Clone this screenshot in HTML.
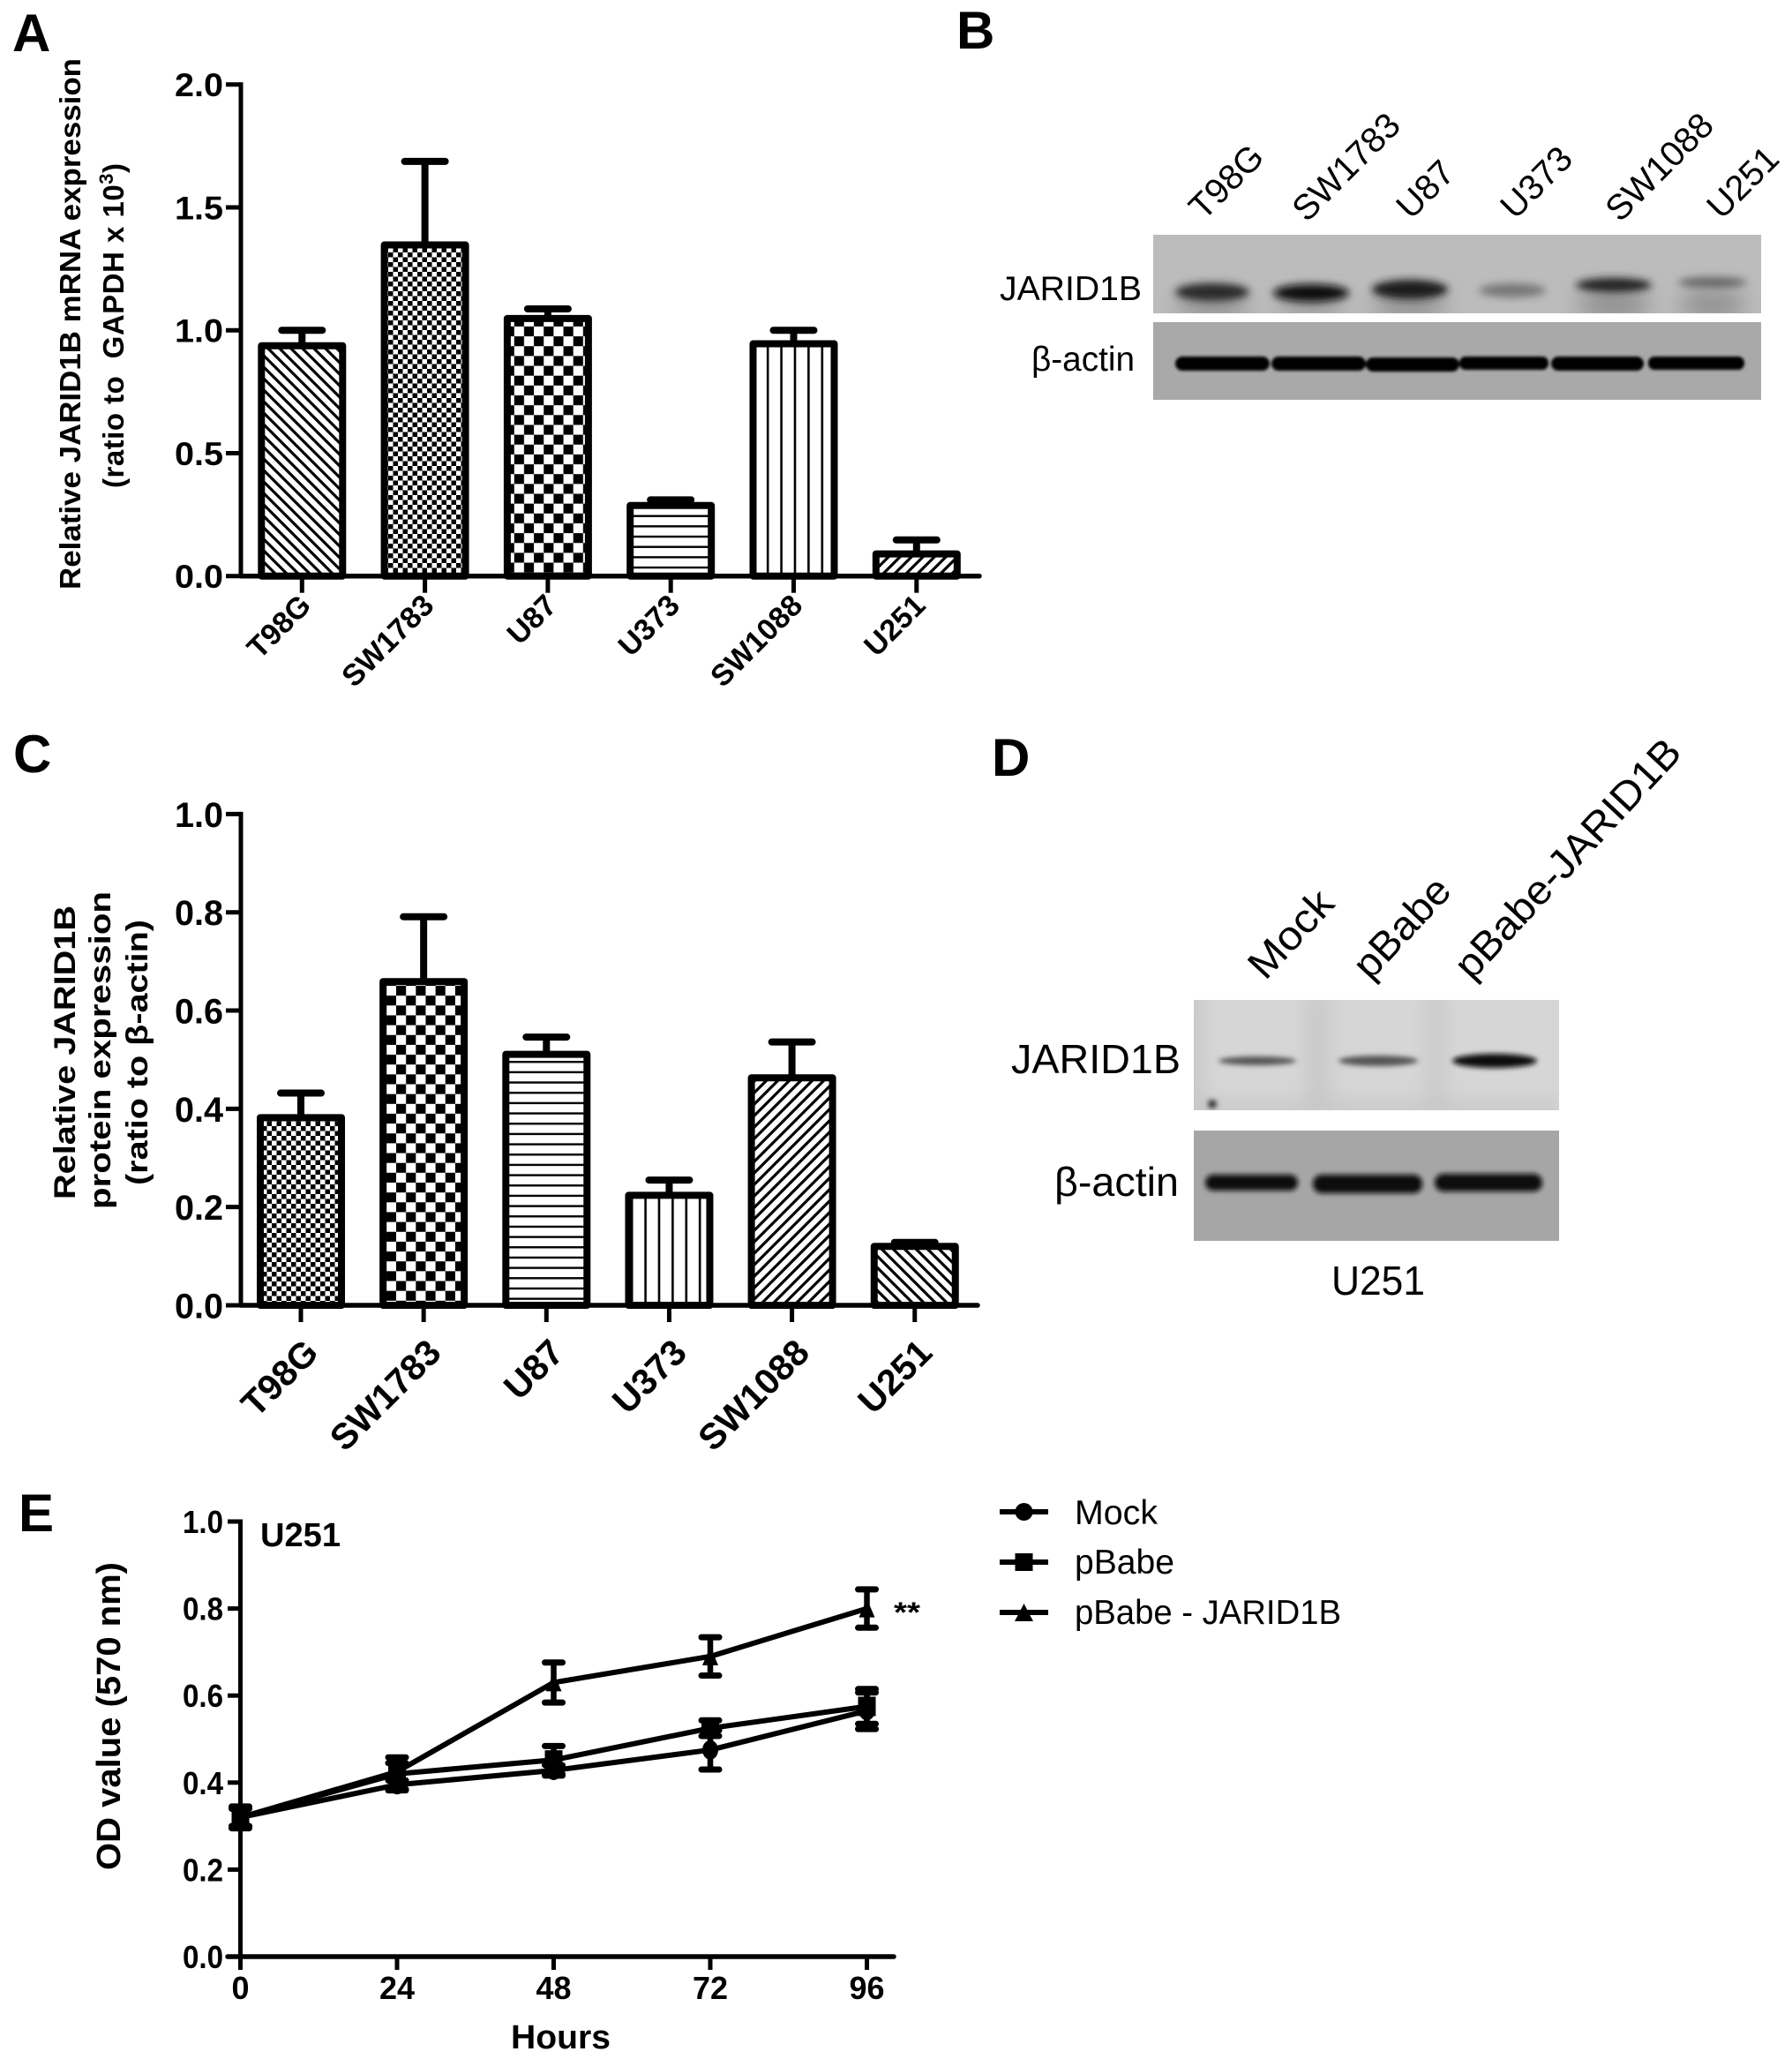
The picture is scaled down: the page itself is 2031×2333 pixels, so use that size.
<!DOCTYPE html>
<html lang="en">
<head>
<meta charset="utf-8">
<title>JARID1B expression figure</title>
<style>
html,body{margin:0;padding:0;background:#fff;}
svg{display:block;}
text{font-family:"Liberation Sans",sans-serif;fill:#000;}
.b{font-weight:bold;}
</style>
</head>
<body>
<svg id="figure" xmlns="http://www.w3.org/2000/svg" width="2031" height="2333" viewBox="0 0 2031 2333">
  <defs>
    <pattern id="p-back" patternUnits="userSpaceOnUse" width="13" height="13"><rect width="13" height="13" fill="#fff"/><path d="M-3 -3 L16 16 M-3 10 L3 16 M10 -3 L16 3" stroke="#000" stroke-width="3.2"/></pattern>
    <pattern id="p-forward" patternUnits="userSpaceOnUse" width="13" height="13"><rect width="13" height="13" fill="#fff"/><path d="M-3 16 L16 -3 M-3 3 L3 -3 M10 16 L16 10" stroke="#000" stroke-width="3.2"/></pattern>
    <pattern id="p-fine" patternUnits="userSpaceOnUse" width="11" height="11"><rect width="11" height="11" fill="#fff"/><rect width="5.5" height="5.5" fill="#000"/><rect x="5.5" y="5.5" width="5.5" height="5.5" fill="#000"/></pattern>
    <pattern id="p-coarse" patternUnits="userSpaceOnUse" width="22.3" height="22.3" x="3" y="2"><rect width="22.3" height="22.3" fill="#fff"/><rect width="11.15" height="11.15" fill="#000"/><rect x="11.15" y="11.15" width="11.15" height="11.15" fill="#000"/></pattern>
    <pattern id="p-horizontal" patternUnits="userSpaceOnUse" width="20" height="11.67"><rect width="20" height="11.67" fill="#fff"/><rect y="0" width="20" height="2.4" fill="#000"/></pattern>
    <pattern id="p-vertical" patternUnits="userSpaceOnUse" width="15.4" height="20" x="0"><rect width="15.4" height="20" fill="#fff"/><rect x="6.5" width="2.6" height="20" fill="#000"/></pattern>
    <filter id="blur2" x="-30%" y="-100%" width="160%" height="300%"><feGaussianBlur stdDeviation="1.6"/></filter>
    <filter id="blur3" x="-30%" y="-100%" width="160%" height="300%"><feGaussianBlur stdDeviation="3"/></filter>
    <filter id="blur6" x="-30%" y="-100%" width="160%" height="300%"><feGaussianBlur stdDeviation="4.5"/></filter>
    <filter id="blur12" x="-30%" y="-100%" width="160%" height="300%"><feGaussianBlur stdDeviation="12"/></filter>
  </defs>

  <!-- panel letters -->
  <text class="b" x="14" y="58" font-size="60">A</text>
  <text class="b" x="1084" y="55" font-size="60">B</text>
  <text class="b" x="15" y="875" font-size="60">C</text>
  <text class="b" x="1124" y="879" font-size="60">D</text>
  <text class="b" x="21" y="1735" font-size="60">E</text>

  <!-- panel A titles -->
  <g id="chart-a">
    <text class="b" transform="translate(91,668) rotate(-90)" font-size="33" textLength="602" lengthAdjust="spacingAndGlyphs">Relative JARID1B mRNA expression</text>
    <text class="b" transform="translate(140,553) rotate(-90)" font-size="33" letter-spacing="0.5" xml:space="preserve">(ratio to  GAPDH x 10<tspan dy="-12" font-size="22">3</tspan><tspan dy="12">)</tspan></text>
  </g>

  <!-- panel C titles -->
  <g id="chart-c">
    <text class="b" transform="translate(85,1359) rotate(-90)" font-size="34" textLength="333" lengthAdjust="spacingAndGlyphs">Relative JARID1B</text>
    <text class="b" transform="translate(125,1370) rotate(-90)" font-size="34" textLength="360" lengthAdjust="spacingAndGlyphs">protein expression</text>
    <text class="b" transform="translate(167,1343) rotate(-90)" font-size="34" textLength="301" lengthAdjust="spacingAndGlyphs">(ratio to β-actin)</text>
  </g>

  <!-- panel E titles -->
  <g id="chart-e">
    <text class="b" transform="translate(136,2119) rotate(-90)" font-size="38" textLength="349" lengthAdjust="spacingAndGlyphs">OD value (570 nm)</text>
    <text class="b" x="579" y="2321" font-size="38" textLength="113" lengthAdjust="spacingAndGlyphs">Hours</text>
    <text class="b" x="295" y="1752" font-size="38" textLength="91" lengthAdjust="spacingAndGlyphs">U251</text>
    <text class="b" x="1013" y="1838" font-size="32" textLength="30" lengthAdjust="spacingAndGlyphs">**</text>
  </g>

  <!-- panel B western blot -->
  <g>
    <g font-size="40">
      <text transform="translate(1364,251) rotate(-45)">T98G</text>
      <text transform="translate(1481,253) rotate(-45)">SW1783</text>
      <text transform="translate(1599,250) rotate(-45)">U87</text>
      <text transform="translate(1717,250) rotate(-45)">U373</text>
      <text transform="translate(1836,253) rotate(-45)">SW1088</text>
      <text transform="translate(1951,250) rotate(-45)">U251</text>
    </g>
    <text x="1133" y="340" font-size="39" textLength="161" lengthAdjust="spacingAndGlyphs">JARID1B</text>
    <text x="1169" y="420" font-size="39" textLength="117" lengthAdjust="spacingAndGlyphs">β-actin</text>
    <svg x="1307" y="266" width="689" height="89" viewBox="1307 266 689 89">
      <rect x="1307" y="266" width="689" height="89" fill="#bcbcbc"/>
      <g filter="url(#blur12)" fill="#8e8e8e">
        <ellipse cx="1374" cy="345" rx="42" ry="14"/>
        <ellipse cx="1486" cy="345" rx="38" ry="10"/>
        <ellipse cx="1598" cy="345" rx="42" ry="14"/>
        <ellipse cx="1829" cy="345" rx="42" ry="16"/>
        <ellipse cx="1941" cy="345" rx="38" ry="15"/>
      </g>
      <g filter="url(#blur6)">
        <ellipse cx="1374" cy="331" rx="42" ry="10" fill="#2c2c2c"/>
        <ellipse cx="1486" cy="332" rx="43" ry="10" fill="#111"/>
        <ellipse cx="1598" cy="328" rx="43" ry="11" fill="#1a1a1a"/>
        <ellipse cx="1714" cy="329" rx="38" ry="8" fill="#777"/>
        <ellipse cx="1829" cy="323" rx="43" ry="8" fill="#222"/>
        <ellipse cx="1941" cy="320" rx="39" ry="6" fill="#666"/>
      </g>
    </svg>
    <svg x="1307" y="365" width="689" height="88" viewBox="1307 365 689 88">
      <rect x="1307" y="365" width="689" height="88" fill="#a9a9a9"/>
      <g filter="url(#blur2)" fill="#050505">
        <rect x="1332" y="404" width="107" height="16" rx="8"/>
        <rect x="1441" y="404" width="107" height="16" rx="8"/>
        <rect x="1548" y="405" width="106" height="16" rx="8"/>
        <rect x="1654" y="404" width="101" height="15" rx="7"/>
        <rect x="1758" y="404" width="105" height="16" rx="8"/>
        <rect x="1868" y="404" width="109" height="15" rx="7"/>
      </g>
    </svg>
  </g>

  <!-- panel D western blot -->
  <g>
    <g font-size="46">
      <text transform="translate(1434,1112) rotate(-47)" textLength="118" lengthAdjust="spacingAndGlyphs">Mock</text>
      <text transform="translate(1553,1112) rotate(-47)" textLength="138" lengthAdjust="spacingAndGlyphs">pBabe</text>
      <text transform="translate(1668,1112) rotate(-47)" textLength="352" lengthAdjust="spacingAndGlyphs">pBabe-JARID1B</text>
    </g>
    <text x="1146" y="1216" font-size="46" textLength="192" lengthAdjust="spacingAndGlyphs">JARID1B</text>
    <text x="1195" y="1355" font-size="46" textLength="141" lengthAdjust="spacingAndGlyphs">β-actin</text>
    <text x="1509" y="1467" font-size="46" textLength="106" lengthAdjust="spacingAndGlyphs">U251</text>
    <svg x="1353" y="1133" width="414" height="125" viewBox="1353 1133 414 125">
      <rect x="1353" y="1133" width="414" height="125" fill="#d6d6d6"/>
      <g filter="url(#blur12)" fill="#c2c2c2">
        <rect x="1340" y="1120" width="20" height="150"/>
        <rect x="1485" y="1125" width="18" height="140"/>
        <rect x="1620" y="1125" width="14" height="140"/>
        <rect x="1350" y="1250" width="420" height="15"/>
      </g>
      <g filter="url(#blur3)">
        <ellipse cx="1425" cy="1202" rx="44" ry="5" fill="#555"/>
        <ellipse cx="1562" cy="1202" rx="45" ry="6" fill="#555"/>
        <ellipse cx="1694" cy="1202" rx="48" ry="8" fill="#0a0a0a"/>
        <circle cx="1374" cy="1251" r="5" fill="#333"/>
      </g>
    </svg>
    <svg x="1353" y="1281" width="414" height="125" viewBox="1353 1281 414 125">
      <rect x="1353" y="1281" width="414" height="125" fill="#a6a6a6"/>
      <g filter="url(#blur3)" fill="#0a0a0a">
        <rect x="1366" y="1331" width="105" height="18" rx="9"/>
        <rect x="1488" y="1331" width="124" height="21" rx="10"/>
        <rect x="1626" y="1330" width="122" height="20" rx="10"/>
      </g>
    </svg>
  </g>

  <!-- panel E legend -->
  <g>
    <g>
      <line x1="1133" y1="1713" x2="1188" y2="1713" stroke="#000" stroke-width="6"/>
      <circle cx="1160.5" cy="1713" r="10" fill="#000"/>
      <text x="1218" y="1727" font-size="39" textLength="94" lengthAdjust="spacingAndGlyphs">Mock</text>
    </g>
    <g>
      <line x1="1133" y1="1770" x2="1188" y2="1770" stroke="#000" stroke-width="6"/>
      <rect x="1150.5" y="1760" width="20" height="20" fill="#000"/>
      <text x="1218" y="1783" font-size="39" textLength="113" lengthAdjust="spacingAndGlyphs">pBabe</text>
    </g>
    <g>
      <line x1="1133" y1="1827" x2="1188" y2="1827" stroke="#000" stroke-width="6"/>
      <path d="M1160.5 1817 L1171 1837 L1150 1837 Z" fill="#000"/>
      <text x="1218" y="1840" font-size="39" textLength="302" lengthAdjust="spacingAndGlyphs">pBabe - JARID1B</text>
    </g>
  </g>
</svg>

<script>
// ---- Panel A data ----
const categoriesA = ['T98G', 'SW1783', 'U87', 'U373', 'SW1088', 'U251'];
const meansA = [0.937, 1.347, 1.048, 0.287, 0.945, 0.09];
const upperErrorA = [1.0, 1.687, 1.087, 0.31, 1.0, 0.147];
const patternsA = ['p-back', 'p-fine', 'p-coarse', 'p-horizontal', 'p-vertical', 'p-forward'];
const yTicksA = ['0.0', '0.5', '1.0', '1.5', '2.0'];

// ---- Panel C data ----
const categoriesC = ['T98G', 'SW1783', 'U87', 'U373', 'SW1088', 'U251'];
const meansC = [0.382, 0.659, 0.511, 0.224, 0.463, 0.12];
const upperErrorC = [0.432, 0.791, 0.546, 0.255, 0.536, 0.128];
const patternsC = ['p-fine', 'p-coarse', 'p-horizontal', 'p-vertical', 'p-forward', 'p-back'];
const yTicksC = ['0.0', '0.2', '0.4', '0.6', '0.8', '1.0'];

// ---- Panel E data ----
const hoursE = [0, 24, 48, 72, 96];
const seriesNamesE = ['mock', 'pbabe', 'pbabe-jarid1b'];
const mockMeans = [0.32, 0.395, 0.428, 0.475, 0.565];
const mockErrors = [0.02, 0.01, 0.012, 0.045, 0.042];
const pbabeMeans = [0.32, 0.42, 0.452, 0.525, 0.575];
const pbabeErrors = [0.025, 0.038, 0.032, 0.018, 0.04];
const jaridMeans = [0.32, 0.425, 0.63, 0.69, 0.80];
const jaridErrors = [0.02, 0.02, 0.046, 0.044, 0.044];
const yTicksE = ['0.0', '0.2', '0.4', '0.6', '0.8', '1.0'];

const SVG_NS = 'http://www.w3.org/2000/svg';
function make(tag, attrs, parent) {
  const node = document.createElementNS(SVG_NS, tag);
  for (const key in attrs) node.setAttribute(key, attrs[key]);
  parent.appendChild(node);
  return node;
}

function drawBarChart(host, opt, categories, means, upper, patterns, yTicks) {
  const x = i => opt.x0 + opt.dx * i;
  const y = v => opt.y0 - v * opt.perUnit;
  const yMax = parseFloat(yTicks[yTicks.length - 1]);

  categories.forEach((cat, i) => {
    const slug = cat.toLowerCase();
    const stem = make('line', { x1: x(i), x2: x(i), y1: y(means[i]), y2: y(upper[i]), stroke: '#000', 'stroke-width': 8 }, host);
    
    
    const cap = make('line', { x1: x(i) - 23, x2: x(i) + 23, y1: y(upper[i]), y2: y(upper[i]), stroke: '#000', 'stroke-width': 8, 'stroke-linecap': 'round' }, host);
    
    
    const bar = make('rect', { x: x(i) - 46, y: y(means[i]), width: 92, height: opt.y0 - y(means[i]), fill: 'url(#' + patterns[i] + ')', stroke: '#000', 'stroke-width': 8, 'stroke-linejoin': 'round' }, host);
    
    
    const tick = make('line', { x1: x(i), x2: x(i), y1: opt.y0, y2: opt.y0 + 19, stroke: '#000', 'stroke-width': 5 }, host);
    
    
    const label = make('text', { transform: 'translate(' + (x(i) + opt.labelDx) + ',' + opt.labelY + ') rotate(-45)', 'text-anchor': 'end', 'font-size': opt.labelSize, 'font-weight': 'bold' }, host);
    label.textContent = cat;
    
    
  });

  const xAxis = make('line', { x1: opt.axisX, x2: opt.axisEnd, y1: opt.y0, y2: opt.y0, stroke: '#000', 'stroke-width': 5.5, 'stroke-linecap': 'round' }, host);
  
  
  const yAxis = make('line', { x1: opt.axisX, x2: opt.axisX, y1: y(yMax) - 2.5, y2: opt.y0, stroke: '#000', 'stroke-width': 5 }, host);
  
  

  yTicks.forEach(t => {
    const v = parseFloat(t);
    const tick = make('line', { x1: opt.axisX - 17, x2: opt.axisX, y1: y(v), y2: y(v), stroke: '#000', 'stroke-width': 5 }, host);
    
    
    const label = make('text', { x: 198, y: y(v) + opt.tickSize * 0.36, 'font-size': opt.tickSize, 'font-weight': 'bold', textLength: 55, lengthAdjust: 'spacingAndGlyphs' }, host);
    label.textContent = t;
    
    
  });
}

function drawGrowthChart(host, hours, names, meansBySeries, errorsBySeries, yTicks) {
  const x = h => 272.5 + h * 7.396;
  const y = v => 2217 - v * 493;

  names.forEach((name, s) => {
    const means = meansBySeries[s];
    const errors = errorsBySeries[s];
    const group = make('g', {}, host);
    
    

    const points = hours.map((h, i) => x(h) + ',' + y(means[i])).join(' ');
    const line = make('polyline', { points: points, fill: 'none', stroke: '#000', 'stroke-width': 6, 'stroke-linejoin': 'round' }, group);
    
    

    hours.forEach((h, i) => {
      const px = x(h);
      const py = y(means[i]);
      const hi = y(means[i] + errors[i]);
      const lo = y(means[i] - errors[i]);
      const stem = make('line', { x1: px, x2: px, y1: hi, y2: lo, stroke: '#000', 'stroke-width': 6.5 }, group);
      
      
      const capTop = make('line', { x1: px - 10, x2: px + 10, y1: hi, y2: hi, stroke: '#000', 'stroke-width': 7, 'stroke-linecap': 'round' }, group);
      
      
      const capBottom = make('line', { x1: px - 10, x2: px + 10, y1: lo, y2: lo, stroke: '#000', 'stroke-width': 7, 'stroke-linecap': 'round' }, group);
      
      

      let marker;
      if (s === 0) {
        marker = make('ellipse', { cx: px, cy: py, rx: 9, ry: 11 }, group);
      } else if (s === 1) {
        marker = make('rect', { x: px - 10, y: py - 11, width: 20, height: 22 }, group);
      } else {
        marker = make('path', { d: 'M' + px + ' ' + (py - 11) + ' L' + (px + 9) + ' ' + (py + 10) + ' L' + (px - 9) + ' ' + (py + 10) + ' Z' }, group);
      }
      
      
    });
  });

  const xAxis = make('line', { x1: 258, x2: 1013, y1: 2217, y2: 2217, stroke: '#000', 'stroke-width': 5.5, 'stroke-linecap': 'round' }, host);
  
  
  const yAxis = make('line', { x1: 272.5, x2: 272.5, y1: 1721.5, y2: 2217, stroke: '#000', 'stroke-width': 5 }, host);
  
  

  hours.forEach(h => {
    const tick = make('line', { x1: x(h), x2: x(h), y1: 2217, y2: 2232, stroke: '#000', 'stroke-width': 5 }, host);
    
    
    const label = make('text', { x: x(h), y: 2265, 'font-size': 36, 'font-weight': 'bold', 'text-anchor': 'middle' }, host);
    label.textContent = String(h);
    
    
  });

  yTicks.forEach(t => {
    const v = parseFloat(t);
    const tick = make('line', { x1: 258, x2: 272.5, y1: y(v), y2: y(v), stroke: '#000', 'stroke-width': 5 }, host);
    
    
    const label = make('text', { x: 207, y: y(v) + 13, 'font-size': 36, 'font-weight': 'bold', textLength: 46, lengthAdjust: 'spacingAndGlyphs' }, host);
    label.textContent = t;
    
    
  });
}

drawBarChart(document.getElementById('chart-a'),
  { x0: 342.3, dx: 139.3, y0: 652.7, perUnit: 278.5, axisX: 273, axisEnd: 1110, labelDx: 12, labelY: 688, labelSize: 34, tickSize: 37 },
  categoriesA, meansA, upperErrorA, patternsA, yTicksA);

drawBarChart(document.getElementById('chart-c'),
  { x0: 341, dx: 139.15, y0: 1479, perUnit: 556.6, axisX: 273, axisEnd: 1108, labelDx: 22, labelY: 1535, labelSize: 41, tickSize: 40 },
  categoriesC, meansC, upperErrorC, patternsC, yTicksC);

drawGrowthChart(document.getElementById('chart-e'), hoursE, seriesNamesE,
  [mockMeans, pbabeMeans, jaridMeans], [mockErrors, pbabeErrors, jaridErrors], yTicksE);
</script>
</body>
</html>
